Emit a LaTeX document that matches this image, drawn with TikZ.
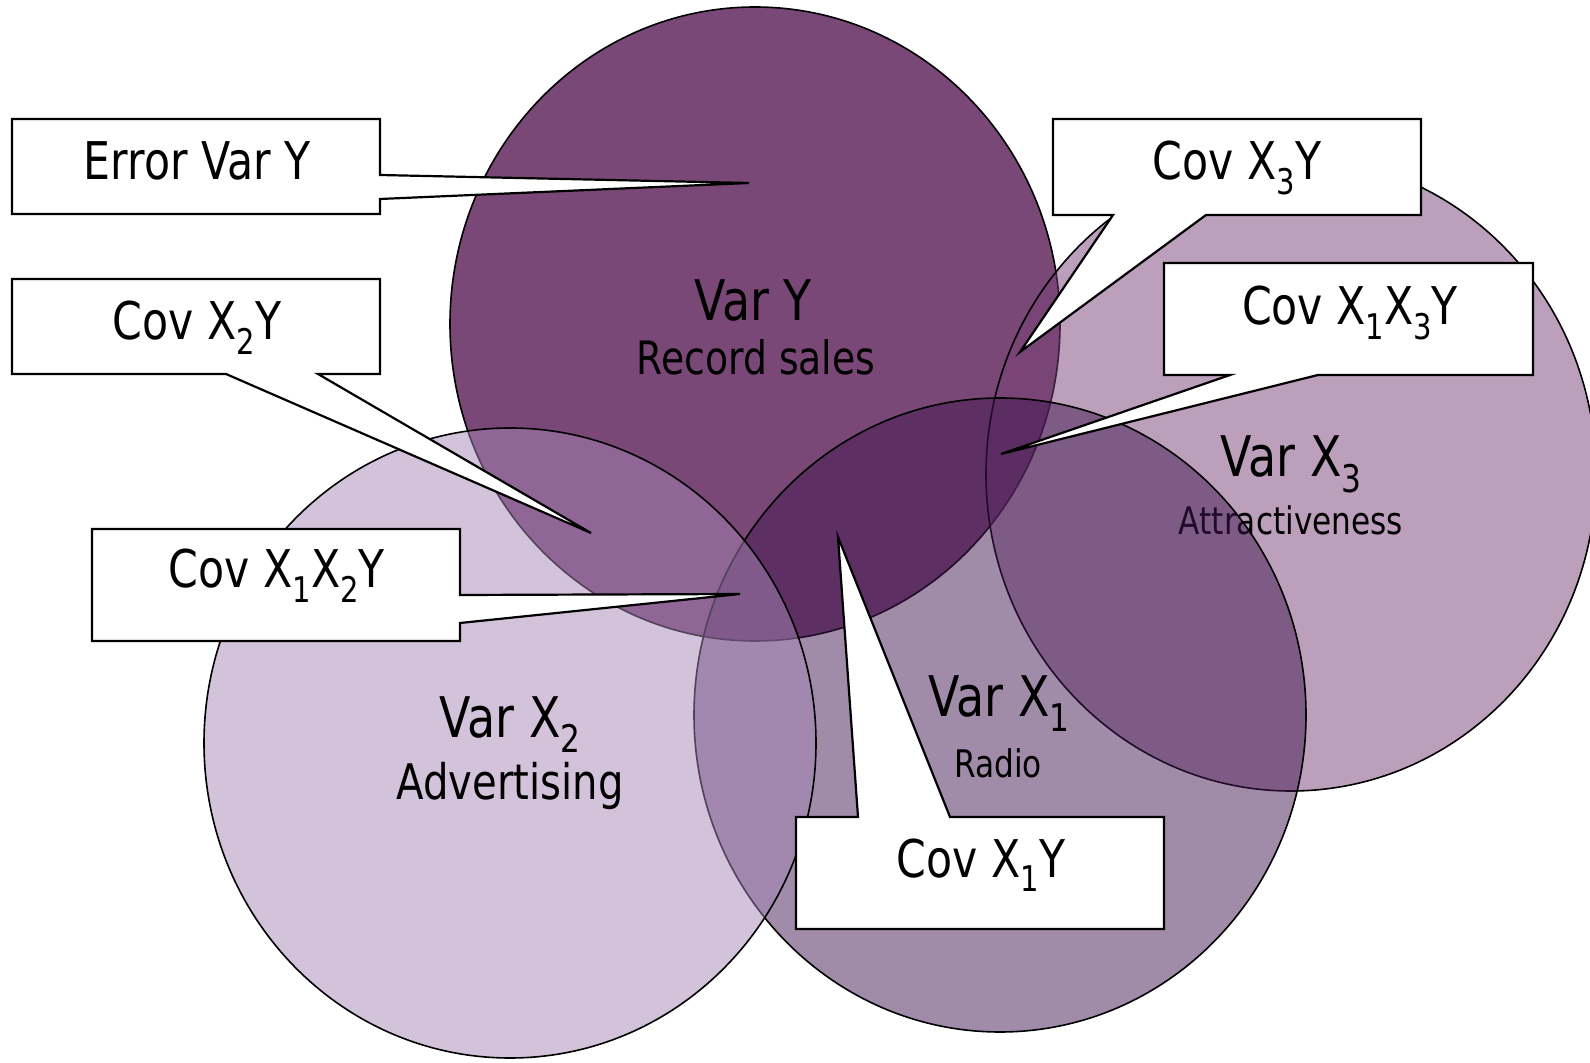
\documentclass[tikz,border=0pt]{standalone}
\usepackage{fontspec}
\setmainfont[FakeStretch=0.82]{DejaVu Sans}

\definecolor{salesfill}{RGB}{122,72,118}
\definecolor{attrfill}{RGB}{121,65,119}
\definecolor{radiofill}{RGB}{65,23,81}
\definecolor{advfill}{RGB}{165,133,181}

% lowered index for X_1, X_2, X_3
\newcommand{\ix}[1]{\raisebox{-0.28em}{\scalebox{0.68}{#1}}}

\begin{document}
\begin{tikzpicture}[x=0.5pt,y=-0.5pt,
  venn/.style={draw=black,line width=0.8pt},
  bubble/.style={draw=black,fill=white,line width=1.1pt},
  big/.style={anchor=base,inner sep=0pt,font=\fontsize{26}{31}\selectfont},
  varlab/.style={anchor=base,inner sep=0pt,font=\fontsize{28}{33}\selectfont},
  midlab/.style={anchor=base,inner sep=0pt,font=\fontsize{23}{28}\selectfont},
  smalllab/.style={anchor=base,inner sep=0pt,font=\fontsize{19}{23}\selectfont}]
\useasboundingbox (0,0) rectangle (1590,1063);

% Y first, the others on top of it
\draw[venn,fill=salesfill] (755,324) ellipse [x radius=152.5pt,y radius=158.5pt];
\draw[venn,fill=attrfill,fill opacity=0.5] (1291,474) ellipse [x radius=152.5pt,y radius=158.5pt];
\node[varlab] (varx3) at (1291,476.5) {Var X\ix{3}};
\node[smalllab] (attr) at (1291,535) {Attractiveness};
\draw[venn,fill=radiofill,fill opacity=0.5] (1000,715) ellipse [x radius=153pt,y radius=158.5pt];
\draw[venn,fill=advfill,fill opacity=0.5] (510,743) ellipse [x radius=153pt,y radius=157.5pt];

\node[varlab] (vary) at (753,320.5) {Var Y};
\node[midlab] (sales) at (756,375) {Record sales};
\node[varlab] (varx2) at (510,737) {Var X\ix{2}};
\node[midlab,font=\fontsize{24.5}{29}\selectfont] (adv) at (510,799) {Advertising};
\node[varlab] (varx1) at (999,716) {Var X\ix{1}};
\node[smalllab] (radio) at (998,777) {Radio};

% where the callouts point
\coordinate (errtip) at (749,183);
\coordinate (x2tip) at (591,533);
\coordinate (x12tip) at (740,594);
\coordinate (x3tip) at (1020,352);
\coordinate (x13tip) at (1001,454);
\coordinate (x1tip) at (838,537);

% callouts
\draw[bubble] (12,119) -- (380,119) -- (380,175) -- (errtip) -- (380,199)
  -- (380,214) -- (12,214) -- cycle;
\node[big] (errvar) at (197,179.5) {Error Var Y};

\draw[bubble] (12,279) -- (380,279) -- (380,374) -- (318,374) -- (x2tip)
  -- (226,374) -- (12,374) -- cycle;
\node[big] (covx2) at (197,340) {Cov X\ix{2}Y};

\draw[bubble] (92,529) -- (460,529) -- (460,595) -- (x12tip) -- (460,623)
  -- (460,641) -- (92,641) -- cycle;
\node[big] (covx12) at (277,588) {Cov X\ix{1}X\ix{2}Y};

\draw[bubble] (1053,119) -- (1421,119) -- (1421,215) -- (1206,215) -- (x3tip)
  -- (1113,215) -- (1053,215) -- cycle;
\node[big] (covx3) at (1237,179.5) {Cov X\ix{3}Y};

\draw[bubble] (1164,263) -- (1533,263) -- (1533,375) -- (1318,375) -- (x13tip)
  -- (1230,375) -- (1164,375) -- cycle;
\node[big] (covx13) at (1350,324.5) {Cov X\ix{1}X\ix{3}Y};

\draw[bubble] (796,817) -- (858,817) -- (x1tip) -- (950,817) -- (1164,817)
  -- (1164,929) -- (796,929) -- cycle;
\node[big] (covx1) at (981,877) {Cov X\ix{1}Y};
\end{tikzpicture}
\end{document}
